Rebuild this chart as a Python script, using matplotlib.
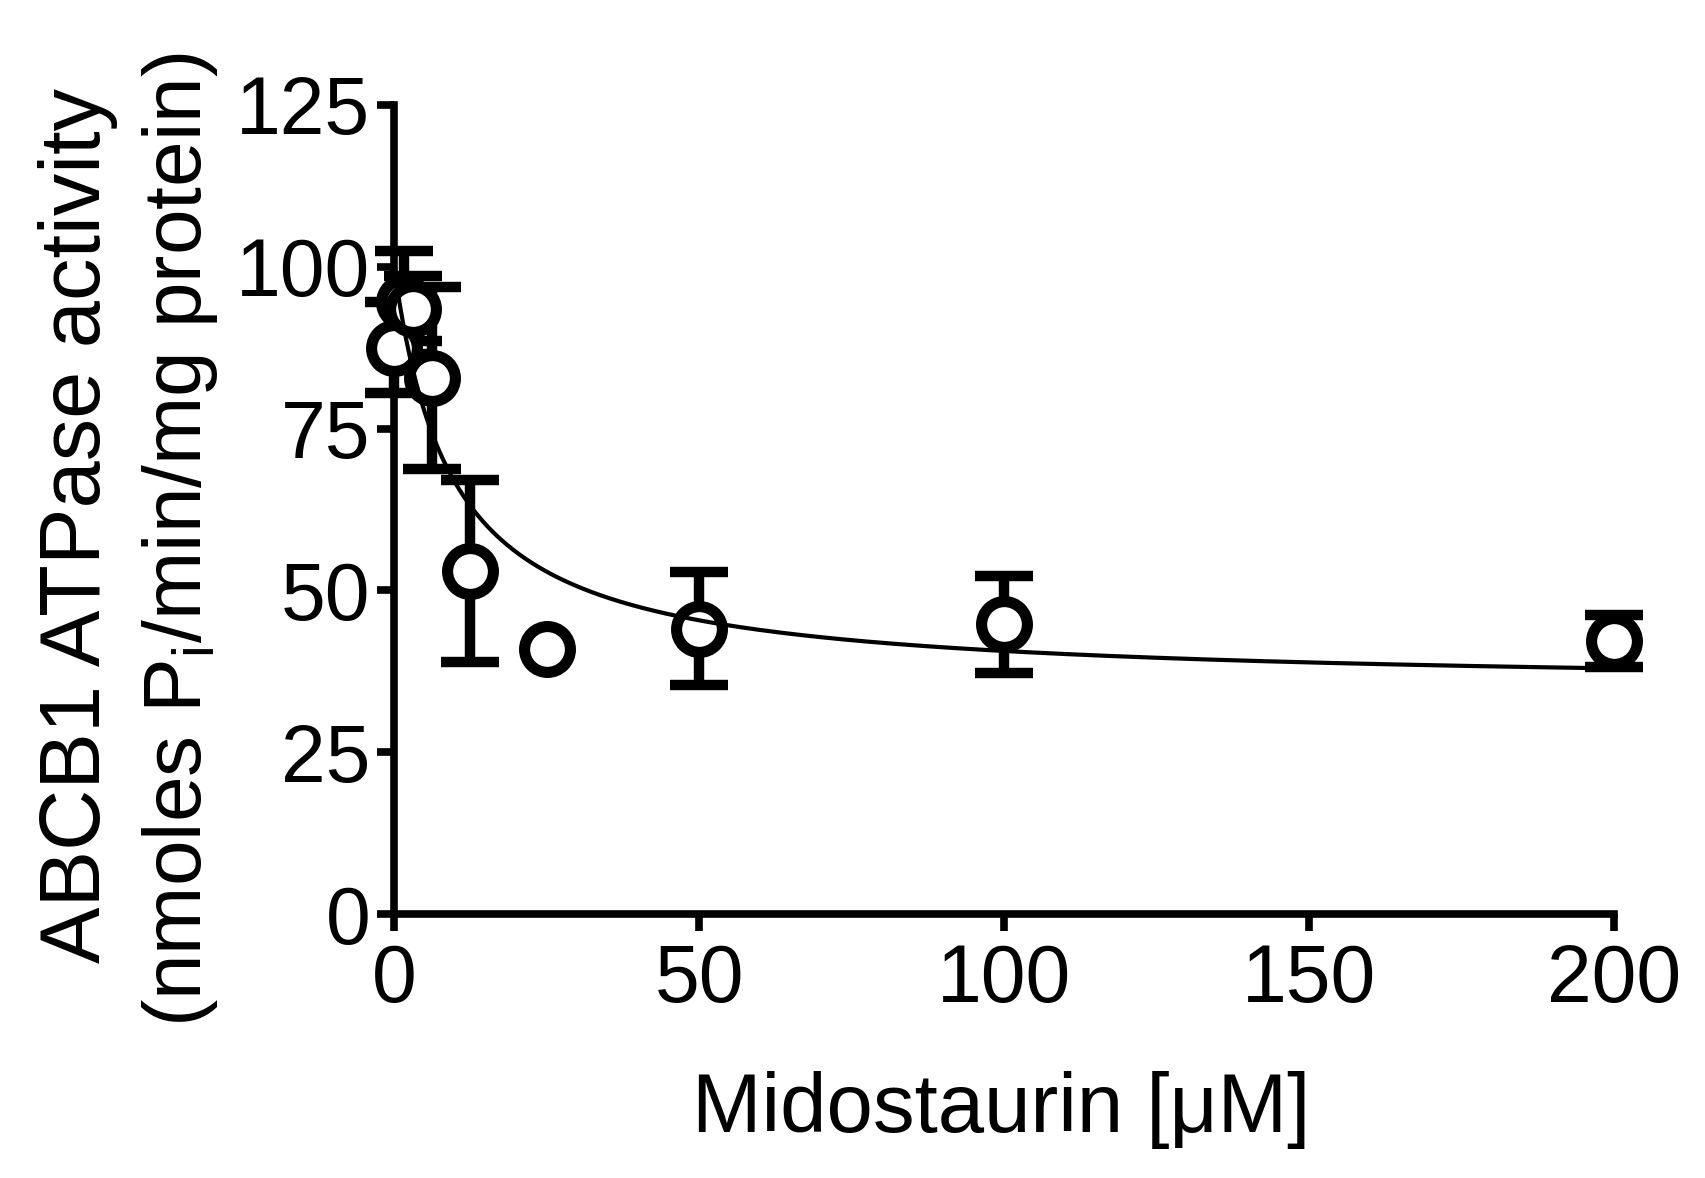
import numpy as np
import matplotlib
matplotlib.use('Agg')
import matplotlib.pyplot as plt

plt.rcParams['font.family'] = ['Liberation Sans', 'DejaVu Sans']
plt.rcParams['mathtext.fontset'] = 'custom'
plt.rcParams['mathtext.rm'] = 'Liberation Sans'

# donnees
conc = [0, 1.5625, 3.125, 6.25, 12.5, 25, 50, 100, 200]
activite = [87.5, 94.5, 93.5, 82.8, 53.0, 41.0, 44.1, 44.8, 42.2]
erreur = [7.0, 8.0, 5.0, 14.0, 14.0, np.nan, 8.7, 7.5, 4.0]

# parametres de l'ajustement (estimes sur la courbe)
haut = 100.0
bas = 35.0
ic50 = 9.5
pente = 1.0

xticks = [0, 50, 100, 150, 200]
yticks = [0, 25, 50, 75, 100, 125]

fig = plt.figure(figsize=(17.06, 11.78), dpi=100)
ax = fig.add_axes([0.2310, 0.2241, 0.7151, 0.6868])

# courbe ajustee
xc = np.linspace(0, 200, 800)
yc = bas + (haut - bas) / (1 + (xc / ic50) ** pente)

ax.errorbar(conc, activite, yerr=erreur, fmt='none', ecolor='black',
            elinewidth=7.5, capsize=21, capthick=7.5, clip_on=False, zorder=2)
ax.plot(conc, activite, 'o', ms=33, mfc='white', mec='black', mew=8,
        clip_on=False, zorder=3)
ax.plot(xc, yc, color='black', lw=3, clip_on=False, zorder=4)

ax.set_xlim(0, 200)
ax.set_ylim(0, 125)
ax.set_xticks(xticks)
ax.set_yticks(yticks)
ax.spines['top'].set_visible(False)
ax.spines['right'].set_visible(False)
for s in ['left', 'bottom']:
    ax.spines[s].set_linewidth(5.5)
ax.tick_params(direction='out', length=12, width=5.5, labelsize=58, pad=5)
ax.tick_params(axis='x', pad=9)

fig.text(0.0457, 0.554, 'ABCB1 ATPase activity', rotation=90,
         ha='center', va='center', fontsize=61)
fig.text(0.1055, 0.5416, r'(nmoles P$_\mathregular{i}$/min/mg protein)',
         rotation=90, ha='center', va='center', fontsize=59)
fig.text(0.587, 0.058, 'Midostaurin [\u03bcM]', ha='center', va='center',
         fontsize=60)

fig.savefig('out.png', dpi=100)
